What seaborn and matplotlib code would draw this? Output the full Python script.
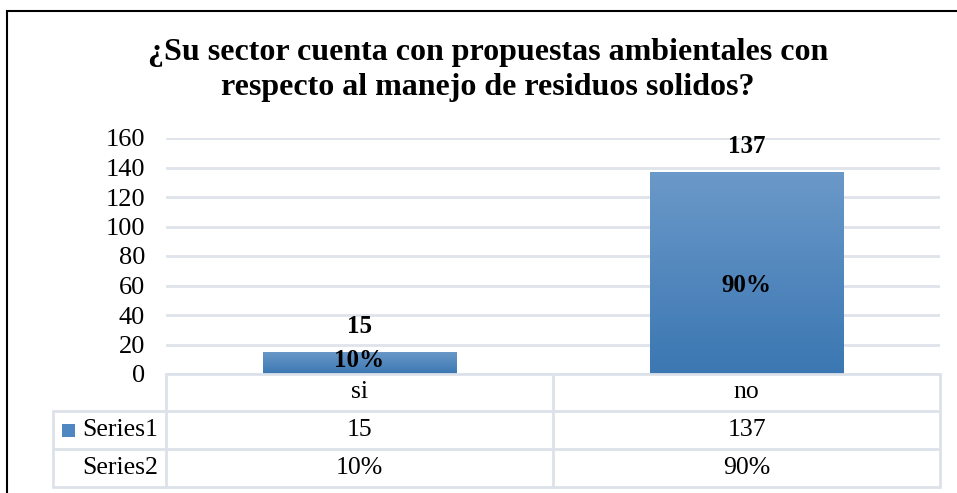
import numpy as np
import matplotlib
matplotlib.use("Agg")
import matplotlib.pyplot as plt
import seaborn as sns
from matplotlib.lines import Line2D
from matplotlib.patches import Rectangle

# data
categories = ["si", "no"]
series1 = [15, 137]
series2 = ["10%", "90%"]
series2_pos = [9, 60]  # where the percent labels sit on the bars
yticks = [0, 20, 40, 60, 80, 100, 120, 140, 160]
title = "¿Su sector cuenta con propuestas ambientales con\nrespecto al manejo de residuos solidos?"

sns.set_theme(style="white")
plt.rcParams['font.family'] = ['Liberation Serif', 'DejaVu Serif']
plt.rcParams['text.color'] = 'black'
plt.rcParams['ytick.color'] = 'black'

W, H = 957, 493
fig = plt.figure(figsize=(W / 100, H / 100), dpi=100)

# plot area in pixels
x0, x1 = 166, 940
ytop, ybot = 138, 374
ax = fig.add_axes([x0 / W, 1 - ybot / H, (x1 - x0) / W, (ybot - ytop) / H])

sns.barplot(x=categories, y=series1, ax=ax, color="#4f87c0", width=0.5, saturation=1)
ax.set_ylim(0, 160)
ax.set_xlim(-0.5, 1.5)
ax.set_yticks(yticks)
ax.set_yticklabels([str(v) for v in yticks], fontsize=19)
ax.tick_params(axis='y', length=0, pad=15)
ax.set_xticks([])
for s in ax.spines.values():
    s.set_visible(False)
ax.yaxis.grid(True, color="#dfe3ea", linewidth=2)
ax.set_axisbelow(True)

# gradient fill on bars
grad = np.linspace(0, 1, 256).reshape(-1, 1)
cmap = matplotlib.colors.LinearSegmentedColormap.from_list("g", ["#3b77b2", "#6b99c9"])
for bar in ax.patches:
    bx, by = bar.get_x(), bar.get_y()
    bw, bh = bar.get_width(), bar.get_height()
    im = ax.imshow(grad, cmap=cmap, aspect='auto', origin='lower',
                   extent=[bx, bx + bw, by, by + bh], zorder=3)
    im.set_clip_path(bar)
    bar.set_edgecolor("none")
ax.set_xlim(-0.5, 1.5)
ax.set_ylim(0, 160)

# data labels
for i, v in enumerate(series1):
    ax.annotate(str(v), (i, v), xytext=(0, 18), textcoords="offset points",
                ha='center', va='center', fontsize=18, fontweight='bold')
    ax.text(i, series2_pos[i], series2[i], ha='center', va='center',
            fontsize=18, fontweight='bold', zorder=5)

fig.text(488 / W, 1 - 70 / H, title, ha='center', va='center', fontsize=23,
         fontweight='bold', linespacing=1.3)


# data table under the plot
def px(x, y):
    return x / W, 1 - y / H


tc = "#dde2ea"
tlw = 2
rows = [374, 411, 449, 487]
cols = [53, 166, 553, 940]


def hline(y, xa, xb):
    (a, yy), (b, _) = px(xa, y), px(xb, y)
    fig.add_artist(Line2D([a, b], [yy, yy], color=tc, lw=tlw))


def vline(x, ya, yb):
    (xx, a), (_, b) = px(x, ya), px(x, yb)
    fig.add_artist(Line2D([xx, xx], [a, b], color=tc, lw=tlw))


hline(rows[0], cols[1], cols[3])
for r in rows[1:]:
    hline(r, cols[0], cols[3])
vline(cols[0], rows[1], rows[3])
for c in cols[1:]:
    vline(c, rows[0], rows[3])

fs = 18.5
for i, cat in enumerate(categories):
    cx = (cols[i + 1] + cols[i + 2]) / 2
    fig.text(*px(cx, (rows[0] + rows[1]) / 2), cat, ha='center', va='center', fontsize=fs)
    fig.text(*px(cx, (rows[1] + rows[2]) / 2), str(series1[i]), ha='center', va='center', fontsize=fs)
    fig.text(*px(cx, (rows[2] + rows[3]) / 2), series2[i], ha='center', va='center', fontsize=fs)

fig.text(*px(82, (rows[1] + rows[2]) / 2), "Series1", ha='left', va='center', fontsize=fs)
fig.text(*px(82, (rows[2] + rows[3]) / 2), "Series2", ha='left', va='center', fontsize=fs)
lx, ly = px(62, 437)
fig.add_artist(Rectangle((lx, ly), 13 / W, 13 / H, transform=fig.transFigure,
                         facecolor="#4f87c0", edgecolor="none"))

# outer frame
fx, fy = px(7, 11)
fig.add_artist(Rectangle((fx, -0.1), 1.2, fy + 0.1, transform=fig.transFigure,
                         facecolor="none", edgecolor="black", lw=1.5))

fig.savefig("out.png", dpi=100)
